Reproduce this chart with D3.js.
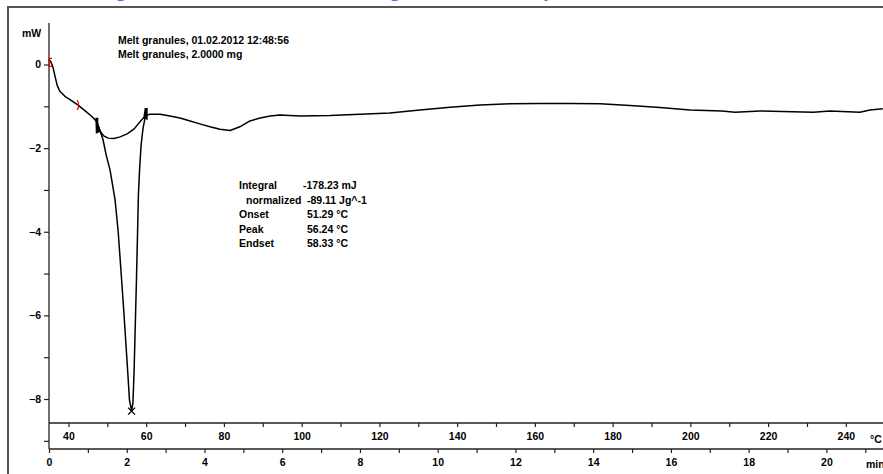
<!DOCTYPE html>
<html>
<head>
<meta charset="utf-8">
<script src="https://cdn.jsdelivr.net/npm/d3@7"></script>
<style>
  html, body { margin: 0; padding: 0; background: #fff; }
  svg { display: block; }
  text { font-family: "Liberation Sans", Arial, sans-serif; font-weight: bold; fill: #000; }
</style>
</head>
<body>
<svg id="chart" width="883" height="474"></svg>
<script>
// DSC heat-flow curve (mW) against time (min); heating 10 K/min from 35 °C
const timeMin = [0.01, 0.05, 0.10, 0.15, 0.21, 0.28, 0.41, 0.54, 0.75, 0.93, 1.11, 1.23,
  1.31, 1.39, 1.47, 1.57, 1.70, 1.78, 1.85, 1.93, 1.98, 2.03, 2.07, 2.11, 2.124,
  2.16, 2.19, 2.21, 2.25, 2.28, 2.30, 2.33, 2.37, 2.42, 2.47, 2.51, 2.60, 2.86,
  3.11, 3.37, 3.63, 3.88, 4.14, 4.40, 4.66, 4.91, 5.17, 5.43, 5.69, 5.94, 6.46,
  7.23, 8.00, 8.77, 9.54, 10.32, 11.09, 11.86, 12.63, 13.40, 14.18, 14.95, 15.72,
  16.49, 17.31, 17.65, 18.29, 19.66, 20.09, 20.86, 21.12, 21.45];
const heatFlow = [0.11, 0.06, -0.06, -0.26, -0.50, -0.64, -0.76, -0.84, -0.97, -1.11, -1.25, -1.37,
  -1.57, -1.80, -2.16, -2.52, -3.24, -4.00, -4.91, -5.98, -6.70, -7.42, -8.02, -8.21, -8.29,
  -8.09, -7.30, -6.58, -5.15, -3.95, -3.12, -2.52, -1.92, -1.52, -1.28, -1.21, -1.19, -1.19,
  -1.23, -1.28, -1.35, -1.42, -1.49, -1.55, -1.58, -1.49, -1.35, -1.28, -1.23, -1.21, -1.23,
  -1.22, -1.19, -1.16, -1.09, -1.02, -0.97, -0.94, -0.93, -0.93, -0.94, -0.98, -1.03,
  -1.09, -1.11, -1.14, -1.11, -1.14, -1.11, -1.14, -1.09, -1.06];

// integration baseline under the melting peak
const baseTime = [1.23, 1.31, 1.41, 1.52, 1.67, 1.83, 2.01, 2.19, 2.34, 2.50];
const baseFlow = [-1.37, -1.59, -1.71, -1.76, -1.77, -1.73, -1.66, -1.54, -1.37, -1.21];

// evaluation limits (min, mW) and the peak
const limitTime = [0.0, 0.75];
const limitFlow = [0.05, -0.97];
const peakTime = 2.124, peakFlow = -8.29;

// axis ticks
const yTickValues = [0, -1, -2, -3, -4, -5, -6, -7, -8, -9];
const tempMajor = [40, 60, 80, 100, 120, 140, 160, 180, 200, 220, 240];
const tempMinor = [50, 70, 90, 110, 130, 150, 170, 190, 210, 230];
const timeMajor = [0, 2, 4, 6, 8, 10, 12, 14, 16, 18, 20];
const timeMinor = [1, 3, 5, 7, 9, 11, 13, 15, 17, 19, 21];

// header and result table
const headerLines = ["Melt granules, 01.02.2012 12:48:56", "Melt granules, 2.0000 mg"];
const resultNames = ["Integral", "normalized", "Onset", "Peak", "Endset"];
const resultValues = ["-178.23 mJ", "-89.11 Jg^-1", "51.29 °C", "56.24 °C", "58.33 °C"];
const titleWords = ["Thermal Melting", "curve of the", "granules", "by DSC"];

const svg = d3.select("#chart");
const W = 883, H = 474;
const left = 49, topY = 23, tempAxisY = 423, timeAxisY = 449;

const x = d3.scaleLinear().domain([0, 21.456]).range([left, W]);
const xTemp = d3.scaleLinear().domain([35, 35 + 10 * 21.456]).range([left, W]);
const y = d3.scaleLinear().domain([0, -8]).range([64.5, 399]);

// page heading above the frame (only its descenders reach into view)
const title = svg.append("text")
  .style("font-family", "'Liberation Serif', serif")
  .style("font-size", "20px")
  .style("fill", "#3d74d2")
  .attr("y", -4.5);
const titleX = [126, 135, 390, 533];
titleWords.forEach((w, i) => {
  title.append("tspan").attr("x", titleX[i])
    .attr("text-anchor", i === 0 ? "end" : "start").text(w);
});

// outer frame
svg.append("path")
  .attr("d", `M8,${H + 2} L8,7 L${W + 2},7`)
  .attr("fill", "none").attr("stroke", "#555").attr("stroke-width", 2);

// y axis
const yAxis = d3.axisLeft(y).tickValues(yTickValues).tickSize(5).tickPadding(3)
  .tickFormat(d => (d % 2 === 0 ? d3.format("d")(d) : ""));
const gy = svg.append("g").attr("transform", `translate(${left},0)`).call(yAxis);
gy.select(".domain").remove();
gy.selectAll("line").attr("stroke", "#222").attr("stroke-width", 1.2);
gy.selectAll("text").style("font-size", "10.5px").style("font-family", "'Liberation Sans', Arial, sans-serif");
svg.append("line").attr("x1", left).attr("x2", left).attr("y1", topY).attr("y2", timeAxisY)
  .attr("stroke", "#222").attr("stroke-width", 1.3);

// temperature axis
const tAxis = d3.axisBottom(xTemp).tickValues(tempMajor.concat(tempMinor)).tickSize(4).tickPadding(6)
  .tickFormat(d => (tempMajor.includes(d) ? d : ""));
const gt = svg.append("g").attr("transform", `translate(0,${tempAxisY})`).call(tAxis);
gt.select(".domain").remove();
gt.selectAll("line").attr("stroke", "#222").attr("stroke-width", 1.2);
gt.selectAll("text").style("font-size", "10.5px").style("font-family", "'Liberation Sans', Arial, sans-serif");
svg.append("line").attr("x1", left).attr("x2", W).attr("y1", tempAxisY).attr("y2", tempAxisY)
  .attr("stroke", "#222").attr("stroke-width", 1.3);
svg.append("text").attr("x", 870).attr("y", tempAxisY + 20).style("font-size", "10.5px").text("°C");

// time axis
const mAxis = d3.axisBottom(x).tickValues(timeMajor.concat(timeMinor)).tickSize(4).tickPadding(6)
  .tickFormat(d => (timeMajor.includes(d) ? d : ""));
const gm = svg.append("g").attr("transform", `translate(0,${timeAxisY})`).call(mAxis);
gm.select(".domain").remove();
gm.selectAll("line").attr("stroke", "#222").attr("stroke-width", 1.2);
gm.selectAll("text").style("font-size", "10.5px").style("font-family", "'Liberation Sans', Arial, sans-serif");
svg.append("line").attr("x1", left).attr("x2", W).attr("y1", timeAxisY).attr("y2", timeAxisY)
  .attr("stroke", "#222").attr("stroke-width", 1.3);
svg.append("text").attr("x", 866).attr("y", timeAxisY + 19).style("font-size", "10.5px").text("min");

// unit label
svg.append("text").attr("x", 22).attr("y", 37).style("font-size", "10.5px").text("mW");

// header
headerLines.forEach((t, i) => {
  svg.append("text").attr("x", 118).attr("y", 44 + i * 14).style("font-size", "10.5px").text(t);
});

// results
resultNames.forEach((t, i) => {
  const by = 189 + i * 14.5;
  svg.append("text").attr("x", i === 1 ? 246 : 239).attr("y", by).style("font-size", "10.5px").text(t);
  svg.append("text").attr("x", i === 0 ? 303 : 307).attr("y", by).style("font-size", "10.5px").text(resultValues[i]);
});

// curves
const line = d3.line().x(d => x(d[0])).y(d => y(d[1]));
svg.append("path").datum(d3.zip(baseTime, baseFlow)).attr("d", line)
  .attr("fill", "none").attr("stroke", "#000").attr("stroke-width", 1.4);
svg.append("path").datum(d3.zip(timeMin, heatFlow)).attr("d", line)
  .attr("fill", "none").attr("stroke", "#000").attr("stroke-width", 1.5)
  .attr("stroke-linejoin", "round");

// evaluation limit brackets
const lx0 = x(limitTime[0]), ly0 = y(limitFlow[0]);
svg.append("path").attr("d", `M${lx0 + 3},${ly0 - 4} L${lx0},${ly0 - 4} L${lx0},${ly0 + 4} L${lx0 + 3},${ly0 + 4}`)
  .attr("fill", "none").attr("stroke", "#e00000").attr("stroke-width", 1.2);
const lx1 = x(limitTime[1]), ly1 = y(limitFlow[1]);
svg.append("path").attr("d", `M${lx1 - 1},${ly1 - 5} Q${lx1 + 2},${ly1} ${lx1 - 1},${ly1 + 5}`)
  .attr("fill", "none").attr("stroke", "#e00000").attr("stroke-width", 1.2);

// baseline end markers
const bx0 = x(baseTime[0]), by0 = y(baseFlow[0]);
svg.append("path").attr("d", `M${bx0 - 1.5},${by0 - 4} L${bx0 + 1.5},${by0 - 4} L${bx0 + 1.5},${by0 + 3} L${bx0 + 4},${by0 + 10} L${bx0 - 1},${by0 + 12} Z`)
  .attr("fill", "#000");
const bx1 = x(baseTime[baseTime.length - 1]), by1 = y(baseFlow[baseFlow.length - 1]);
svg.append("path").attr("d", `M${bx1 - 1.5},${by1 - 7} L${bx1 + 1.5},${by1 - 7} L${bx1 + 1.5},${by1 + 5} L${bx1 - 3},${by1 + 3} Z`)
  .attr("fill", "#000");

// peak marker
const px = x(peakTime), py = y(peakFlow);
svg.append("path").attr("d", `M${px - 3.5},${py - 3.5} L${px + 3.5},${py + 3.5} M${px - 3.5},${py + 3.5} L${px + 3.5},${py - 3.5}`)
  .attr("stroke", "#000").attr("stroke-width", 1.4);
</script>
</body>
</html>
